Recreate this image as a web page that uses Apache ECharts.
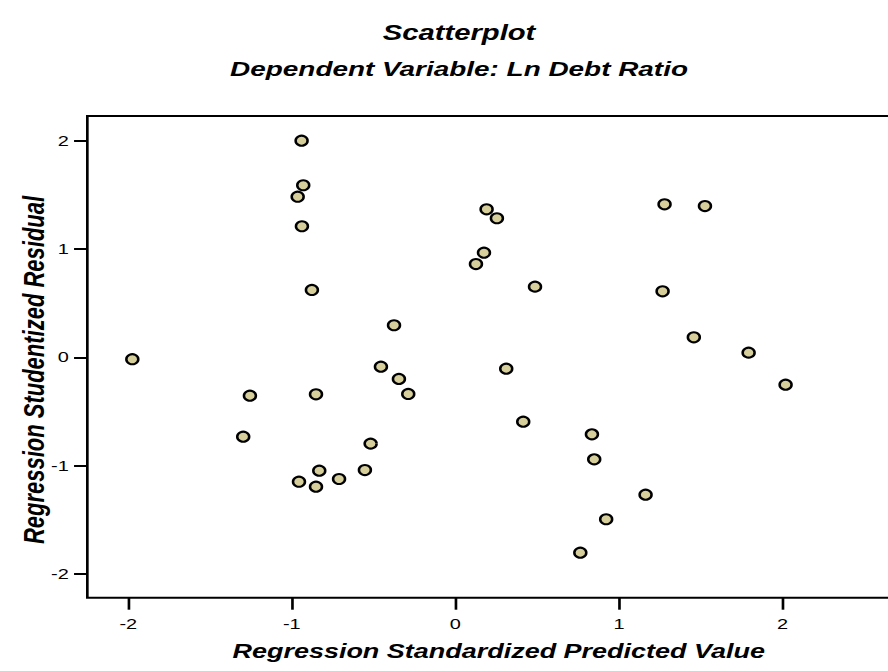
<!DOCTYPE html>
<html><head><meta charset="utf-8">
<script src="https://cdn.jsdelivr.net/npm/echarts@6/dist/echarts.min.js"></script>
<style>
html,body{margin:0;padding:0;background:#fff;overflow:hidden;width:888px;height:671px}
#wrap{width:888px;height:671px;overflow:hidden;position:relative}
#chart{width:668px;height:671px;transform:scaleX(1.329341);transform-origin:0 0}
</style></head><body><div id="wrap"><div id="chart"></div></div>
<script>
const chartTitle = 'Scatterplot';
const chartSubtitle = 'Dependent Variable: Ln Debt Ratio';
const xAxisName = 'Regression Standardized Predicted Value';
const yAxisName = 'Regression Studentized Residual';
const xTicks = [-2, -1, 0, 1, 2];
const yTicks = [-2, -1, 0, 1, 2];
const predictedValue = [-1.975, -1.256, -1.297, -0.956, -0.852, -0.832, -0.711, -0.553, -0.518, -0.852,
  -0.345, -0.288, -0.455, -0.375, -0.877, -0.940, -0.930, -0.964, -0.938, 0.191,
  0.254, 0.175, 0.126, 0.487, 0.311, 0.415, 0.835, 0.849, 0.764, 0.922,
  1.163, 2.019, 1.279, 1.526, 1.267, 1.458, 1.793];
const studentizedResidual = [-0.018, -0.355, -0.734, -1.150, -1.196, -1.048, -1.125, -1.042, -0.798, -0.342,
  -0.200, -0.339, -0.087, 0.296, 0.622, 2.002, 1.590, 1.484, 1.211, 1.368,
  1.285, 0.967, 0.862, 0.653, -0.105, -0.595, -0.712, -0.943, -1.806, -1.497,
  -1.270, -0.253, 1.414, 1.398, 0.610, 0.185, 0.043];

const points = predictedValue.map((x, i) => [x, studentizedResidual[i]]);
const FONT = 'Liberation Sans, Arial, sans-serif';

const chart = echarts.init(document.getElementById('chart'), null, {renderer: 'svg'});
chart.setOption({
  animation: false,
  backgroundColor: '#fff',
  graphic: [
    {type: 'text', x: 345.3, y: 32, style: {text: chartTitle, align: 'center', verticalAlign: 'middle',
      font: 'italic bold 22px ' + FONT, fill: '#000'}},
    {type: 'text', x: 345.3, y: 69, style: {text: chartSubtitle, align: 'center', verticalAlign: 'middle',
      font: 'italic bold 21px ' + FONT, fill: '#000'}},
    {type: 'text', x: 25.5, y: 370, rotation: Math.PI / 2, style: {text: yAxisName, align: 'center', verticalAlign: 'middle',
      font: 'italic bold 22px ' + FONT, fill: '#000'}}
  ],
  grid: {left: 65.7, right: -16.6, top: 116, bottom: 73.3, show: true, borderColor: '#000', borderWidth: 2,
    backgroundColor: 'transparent', containLabel: false, outerBoundsMode: 'none'},
  xAxis: {
    type: 'value', min: -2.25, max: 2.78,
    name: xAxisName, nameLocation: 'middle', nameGap: 43,
    nameTextStyle: {fontFamily: FONT, fontStyle: 'italic', fontWeight: 'bold', fontSize: 20.3, color: '#000'},
    axisLine: {show: false, onZero: false},
    axisTick: {show: true, length: 12, customValues: xTicks, lineStyle: {color: '#000', width: 2}},
    axisLabel: {customValues: xTicks, margin: 19, fontFamily: FONT, fontSize: 15, color: '#000'},
    splitLine: {show: false}
  },
  yAxis: {
    type: 'value', min: -2.222, max: 2.23,
    axisLine: {show: false, onZero: false},
    axisTick: {show: true, length: 10, customValues: yTicks, lineStyle: {color: '#000', width: 2}},
    axisLabel: {customValues: yTicks, margin: 14, fontFamily: FONT, fontSize: 15, color: '#000'},
    splitLine: {show: false}
  },
  series: [{
    type: 'scatter',
    data: points,
    symbol: 'circle',
    symbolSize: [9, 10],
    itemStyle: {color: '#d6cf9c', borderColor: '#000', borderWidth: 2, opacity: 1}
  }]
});
</script></body></html>
